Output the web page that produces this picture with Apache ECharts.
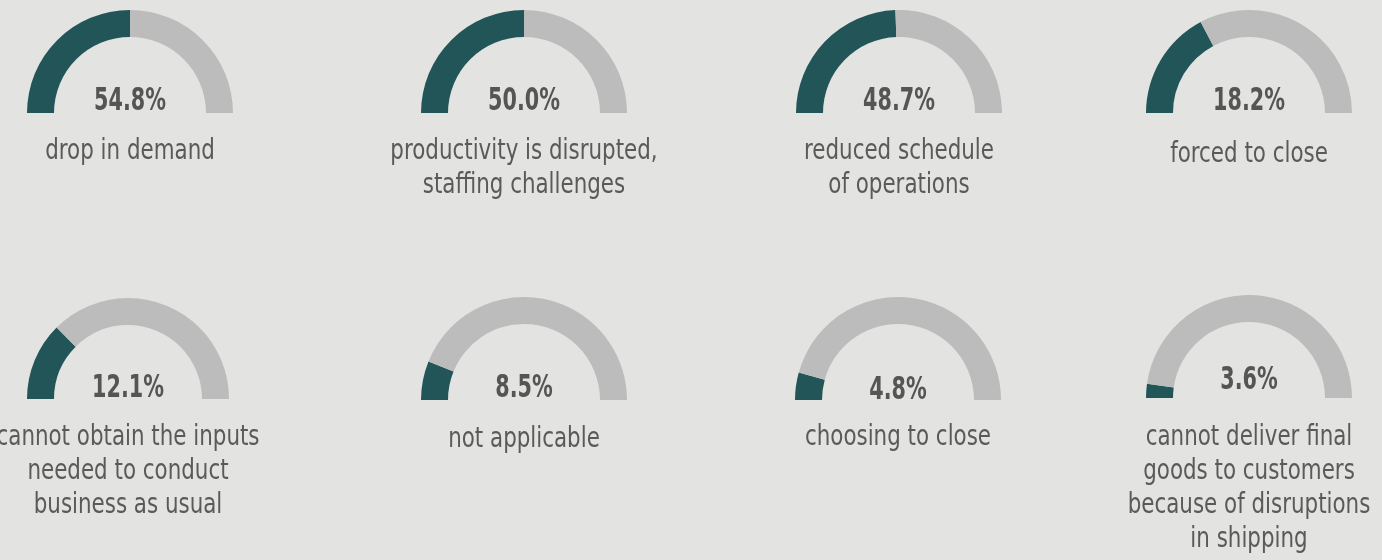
<!DOCTYPE html>
<html>
<head>
<meta charset="utf-8">
<script src="https://cdn.jsdelivr.net/npm/echarts@6/dist/echarts.min.js"></script>
<style>
html,body{margin:0;padding:0;background:#e3e3e1;}
#main{width:1382px;height:560px;}
</style>
</head>
<body>
<div id="main"></div>
<script>
// shown percentages
var values = [54.8, 50.0, 48.7, 18.2, 12.1, 8.5, 4.8, 3.6];
// filled part of each half ring, in degrees of 180
var arcFill = [90, 90, 88, 62, 45, 22, 15.5, 8];
var labels = [
  ['drop in demand'],
  ['productivity is disrupted,', 'staffing challenges'],
  ['reduced schedule', 'of operations'],
  ['forced to close'],
  ['cannot obtain the inputs', 'needed to conduct', 'business as usual'],
  ['not applicable'],
  ['choosing to close'],
  ['cannot deliver final', 'goods to customers', 'because of disruptions', 'in shipping']
];

var centers = [[130, 113], [524, 113], [899, 113], [1249, 113],
               [128, 399], [524, 400], [898, 400], [1249, 398]];
var radii = [[76, 103], [76, 103], [76, 103], [76, 103],
             [74, 101], [76, 103], [76, 103], [76, 103]];
var valueY = [102, 102, 102, 102, 389, 389, 391, 381];
var labelY = [152, 152, 152, 155, 438, 440, 438, 438];

var font = '"DejaVu Sans Condensed", "DejaVu Sans", sans-serif';

var series = [];
var graphics = [];
for (var i = 0; i < values.length; i++) {
  series.push({
    type: 'pie',
    center: centers[i],
    radius: radii[i],
    startAngle: 180,
    endAngle: 0,
    silent: true,
    label: {show: false},
    labelLine: {show: false},
    itemStyle: {borderWidth: 0},
    data: [
      {value: arcFill[i], itemStyle: {color: '#225558'}},
      {value: 180 - arcFill[i], itemStyle: {color: '#bcbcbc'}}
    ]
  });
  graphics.push({
    type: 'text',
    x: centers[i][0], y: valueY[i],
    scaleX: 0.72,
    style: {
      text: values[i].toFixed(1) + '%',
      font: 'bold 32px ' + font,
      fill: '#555555',
      align: 'center', verticalAlign: 'middle'
    }
  });
  graphics.push({
    type: 'text',
    x: centers[i][0], y: labelY[i] - 17,
    scaleX: 0.85,
    style: {
      text: labels[i].join('\n'),
      font: '28px ' + font,
      lineHeight: 34,
      fill: '#5a5a5a',
      align: 'center', verticalAlign: 'top'
    }
  });
}

var myChart = echarts.init(document.getElementById('main'));
myChart.setOption({
  backgroundColor: '#e3e3e1',
  animation: false,
  series: series,
  graphic: graphics
});
</script>
</body>
</html>
